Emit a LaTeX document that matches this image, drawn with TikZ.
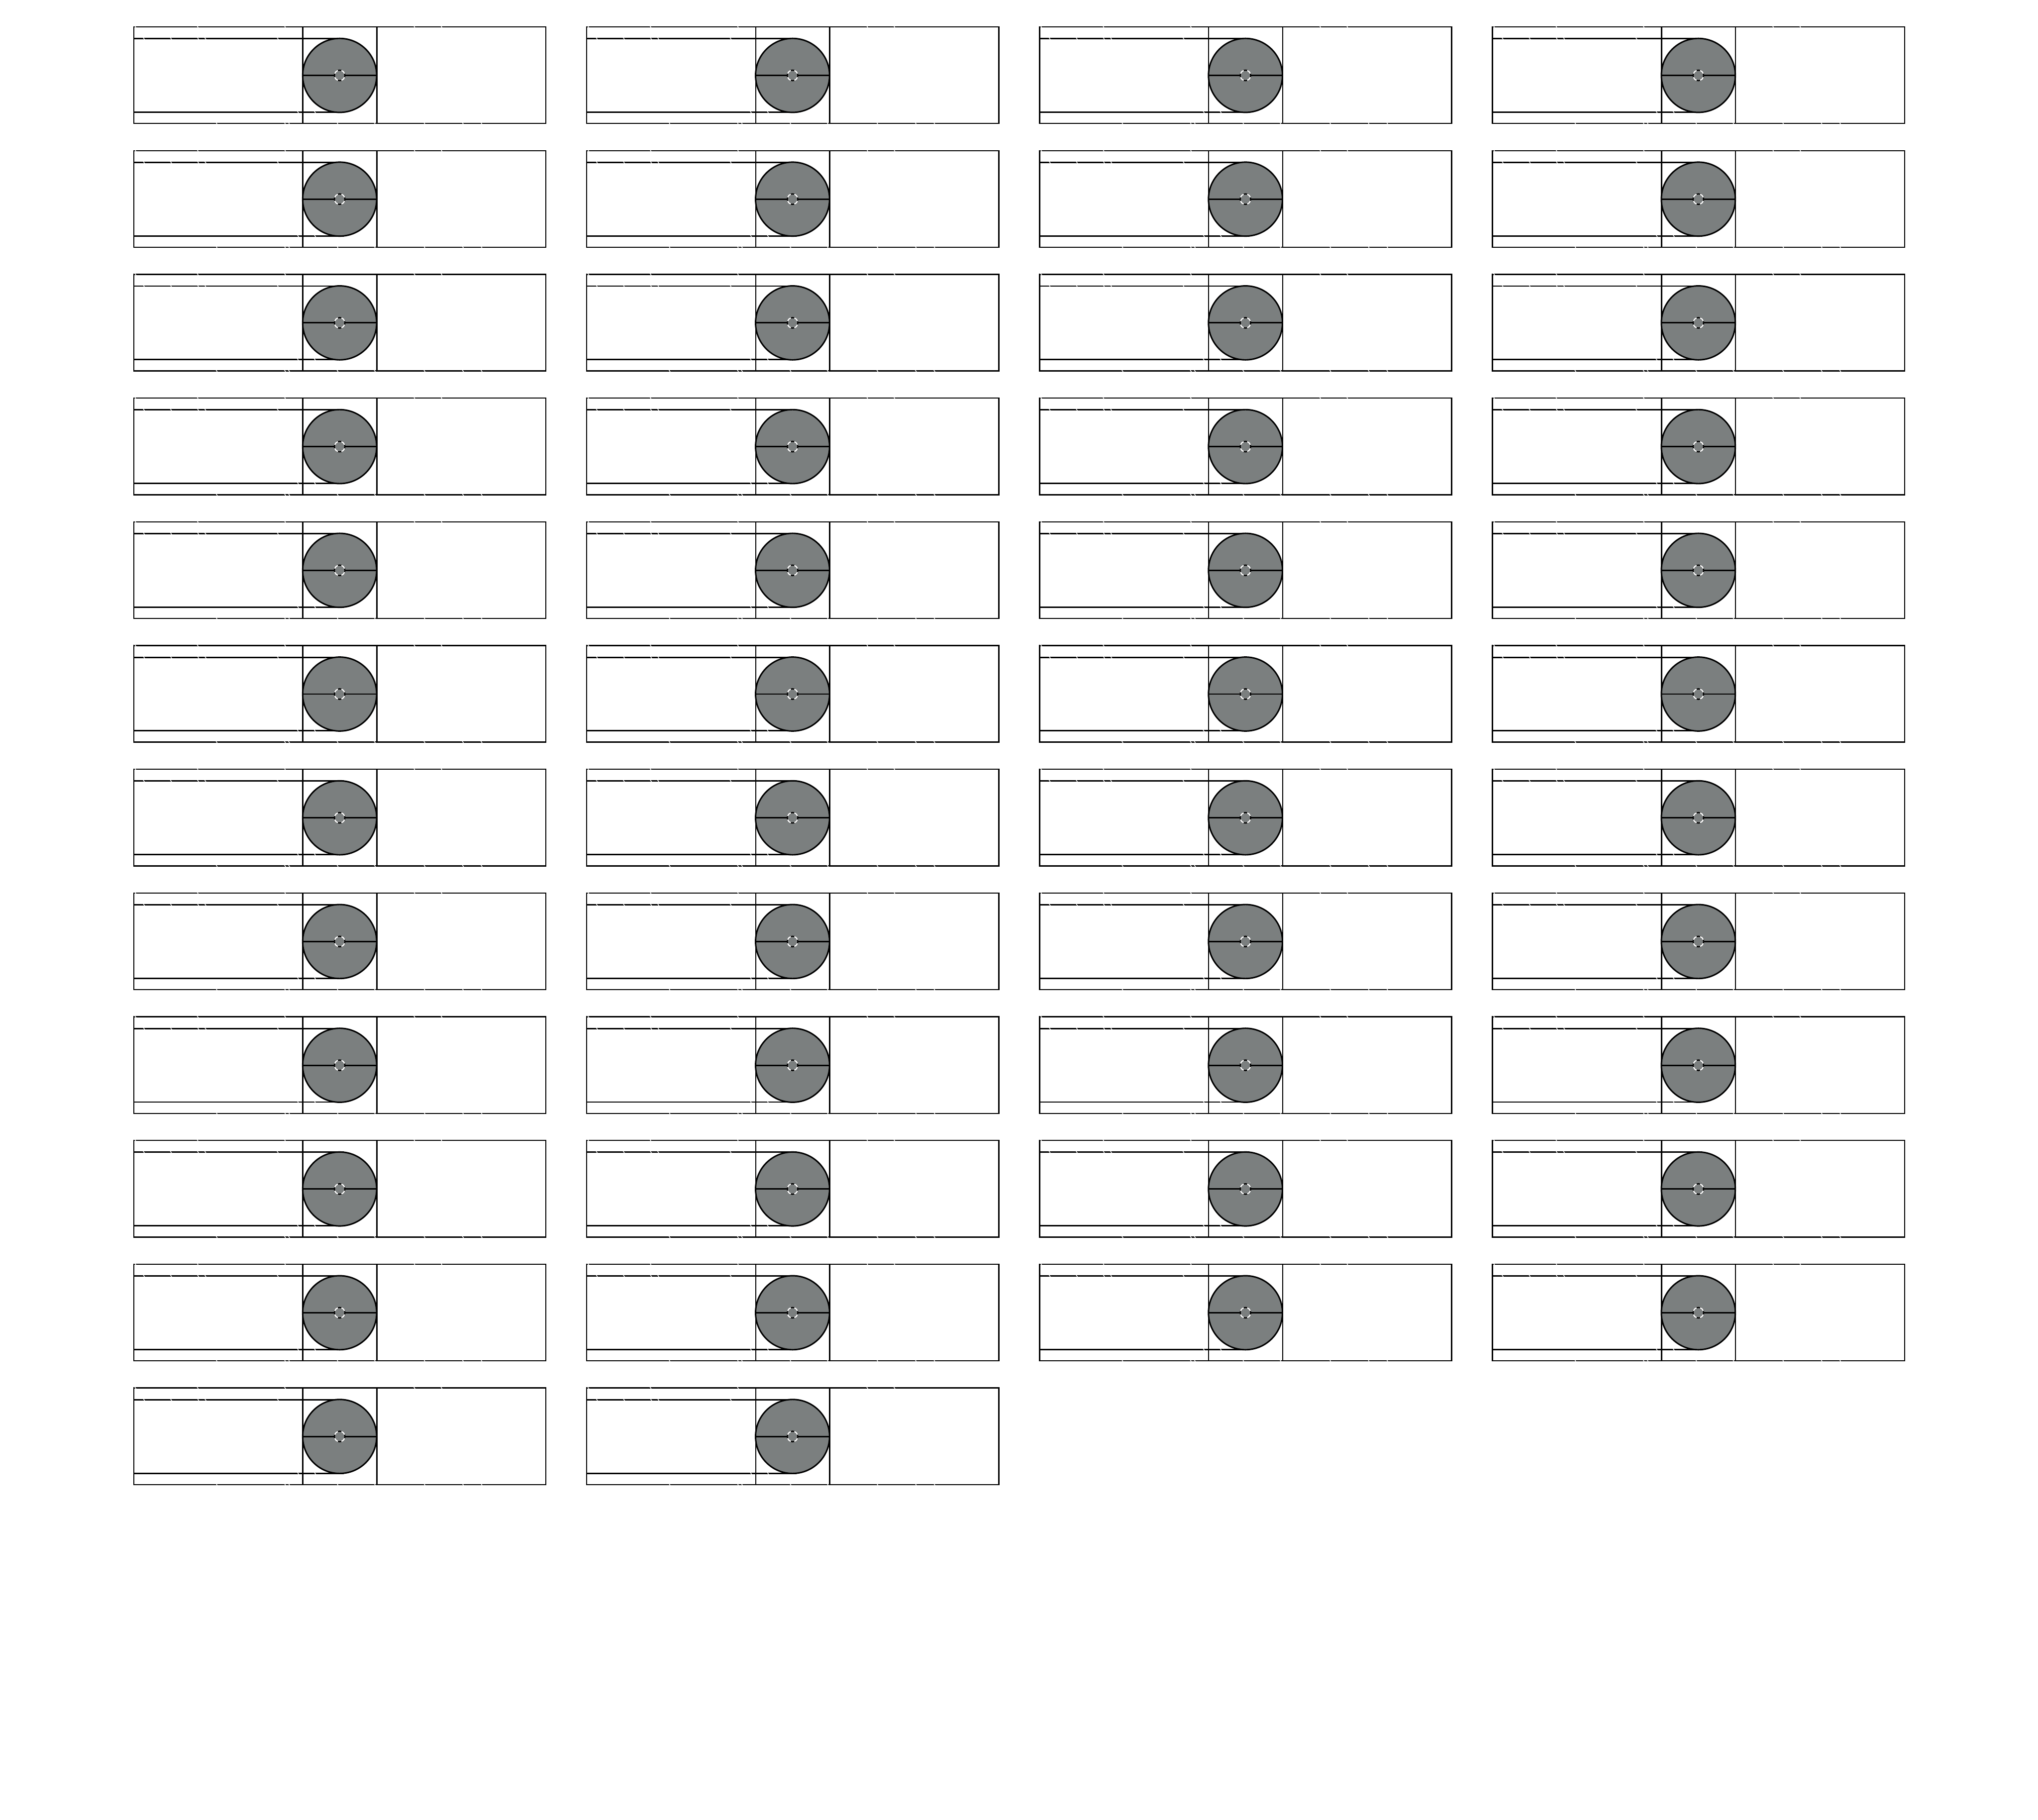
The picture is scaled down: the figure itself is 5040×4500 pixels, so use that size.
\documentclass[tikz,border=0pt]{standalone}
\usepackage{xcolor}
\definecolor{shaft}{HTML}{7B7F7F}
\usepackage{tikz}

\begin{document}
\begin{tikzpicture}[x=0.1mm,y=-0.1mm,line width=0.3mm,
  frame/.style={draw=black},
  rim/.style={draw=black,line width=0.36mm},
  crack/.style={draw=white,line width=0.16mm},
  tile/.pic={
    \draw[frame] (0,0) rectangle (1019,239);
    \draw[rim] (0,29) -- (519,29) (0,211) -- (519,211);
    \draw[frame] (418,0) -- (418,239) (601,0) -- (601,239);
    \draw[rim,fill=shaft] (509,120) circle (91.5);
    \draw[rim] (418,120) -- (496,120) (522,120) -- (601,120);
    \draw[frame] (509,120) circle (13);
    \foreach \ang in {45,135,225,315}
      \draw[crack,line width=0.3mm] (509,120) ++(\ang-25:13) arc (\ang-25:\ang+25:13);
    \foreach \a/\b in {4/0,158/0,374/0,694/0,761/0,25/29,92/29,159/29,177/29,356/29,406/211,448/211,205/239,374/239,384/239,504/239,596/239,719/239,814/239,860/239}
      \draw[crack] (\a-3,\b-4) -- (\a+3,\b+4);
  }]
  \useasboundingbox (0,0) rectangle (5040,4500);
  \foreach \row in {0,...,11}
    \foreach \col in {0,...,3} {
      \ifnum\numexpr\row*10+\col\relax<112
        \pic at (331+\col*1120,66.5+\row*306) {tile};
      \fi
    }
\end{tikzpicture}
\end{document}
